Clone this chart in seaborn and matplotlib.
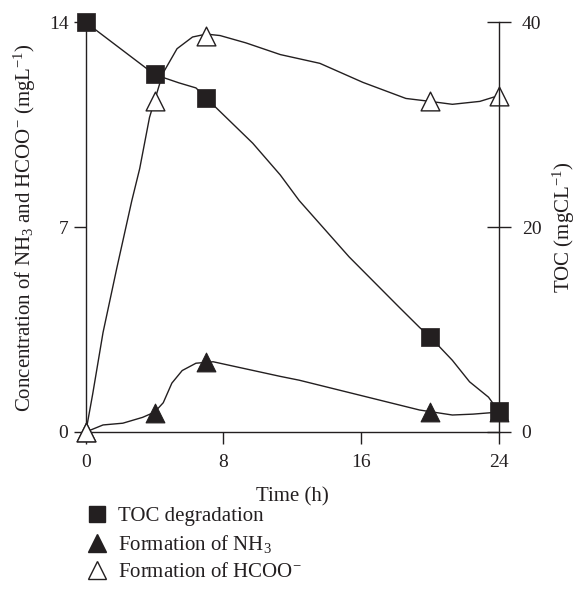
import numpy as np
import pandas as pd
import matplotlib
matplotlib.use("Agg")
import matplotlib.pyplot as plt
import seaborn as sns
from matplotlib.lines import Line2D

# ---- data ----
time_h = [0, 4, 7, 20, 24]
toc = [40, 35, 32.6, 9.3, 2.0]          # right axis, mgC/L
nh3 = [0, 0.65, 2.4, 0.68, 0.68]         # left axis, mg/L
hcoo = [0, 11.3, 13.55, 11.3, 11.5]      # left axis, mg/L

# traced guide curves (knots)
toc_curve_t = [0, 4, 5.4, 6.4, 7, 9.7, 11.3, 12.4, 15.3, 18.2, 19.4, 20, 21.3, 22.3, 23.4, 24]
toc_curve_v = [40, 34.9, 34.1, 33.6, 32.6, 28.2, 25.1, 22.6, 17.1, 12.2, 10.2, 9.3, 7.0, 4.9, 3.4, 2.0]
nh3_curve_t = [0, 1, 2.15, 3.3, 4, 4.5, 5.0, 5.6, 6.4, 7.4, 11.3, 12.4, 15.9, 19.4, 21.3, 22.5, 24]
nh3_curve_v = [0, 0.24, 0.3, 0.5, 0.68, 1.0, 1.67, 2.1, 2.35, 2.4, 1.9, 1.77, 1.26, 0.75, 0.58, 0.61, 0.68]
hcoo_curve_t = [0, 0.4, 1.0, 1.8, 2.67, 3.13, 3.7, 4.47, 5.3, 6.2, 7, 7.8, 9.3, 11.3, 13.6, 16.1, 18.6, 20, 21.3, 22.9, 24]
hcoo_curve_v = [0, 1.3, 3.4, 5.6, 7.9, 9.0, 10.75, 12.25, 13.1, 13.5, 13.6, 13.55, 13.3, 12.9, 12.6, 11.95, 11.4, 11.3, 11.2, 11.3, 11.5]

x_ticks = [0, 8, 16, 24]
left_ticks = [0, 7, 14]
right_ticks = [0, 20, 40]
legend_labels = ["TOC degradation", "Formation of NH$_3$", "Formation of HCOO$^{-}$"]

# ---- style ----
sns.set_style("ticks")
plt.rcParams["font.family"] = ["Liberation Serif", "DejaVu Serif"]
plt.rcParams["mathtext.fontset"] = "custom"
plt.rcParams["mathtext.rm"] = "Liberation Serif"
plt.rcParams["mathtext.it"] = "Liberation Serif:italic"
plt.rcParams["mathtext.default"] = "rm"
plt.rcParams["axes.unicode_minus"] = True
INK = "#231f20"
FS_TICK = 14
FS_LAB = 15

fig = plt.figure(figsize=(5.76, 6.15), dpi=100)
ax = fig.add_axes([0.149, 0.2976, 0.717, 0.666])
ax2 = ax.twinx()

# curves
sns.lineplot(x=nh3_curve_t, y=nh3_curve_v, ax=ax, color=INK, lw=1.0, clip_on=False)
sns.lineplot(x=hcoo_curve_t, y=hcoo_curve_v, ax=ax, color=INK, lw=1.0, clip_on=False)
sns.lineplot(x=toc_curve_t, y=toc_curve_v, ax=ax2, color=INK, lw=1.0, clip_on=False)

# markers
sns.scatterplot(x=time_h, y=nh3, ax=ax, marker="^", s=13.5**2, color=INK,
                edgecolor=INK, linewidth=0.8, clip_on=False, zorder=5)
sns.scatterplot(x=time_h, y=hcoo, ax=ax, marker="^", s=13.5**2, facecolor="white",
                edgecolor=INK, linewidth=1.0, clip_on=False, zorder=6)
sns.scatterplot(x=time_h, y=toc, ax=ax2, marker="s", s=12.5**2, color=INK,
                edgecolor=INK, linewidth=0.5, clip_on=False, zorder=5)

ax.set_xlim(0, 24)
ax.set_ylim(0, 14)
ax2.set_ylim(0, 40)
ax.set_xticks(x_ticks)
ax.set_yticks(left_ticks)
ax2.set_yticks(right_ticks)

for s in ["top", "right"]:
    ax.spines[s].set_visible(False)
for s in ["top", "left", "bottom"]:
    ax2.spines[s].set_visible(False)
for sp in [ax.spines["left"], ax.spines["bottom"], ax2.spines["right"]]:
    sp.set_color(INK)
    sp.set_linewidth(1.0)

ax.tick_params(axis="y", direction="out", length=8.5, width=1.0, color=INK,
               labelsize=FS_TICK, pad=4, labelcolor=INK)
ax.tick_params(axis="x", direction="out", length=8.5, width=1.0, color=INK,
               labelsize=FS_TICK, pad=7, labelcolor=INK)
ax2.tick_params(axis="y", direction="inout", length=17, width=1.0, color=INK,
                labelsize=FS_TICK, pad=8, labelcolor=INK)

ax.set_xlabel("Time (h)", fontsize=FS_LAB, color=INK, labelpad=12)
ax.set_ylabel("Concentration of NH$_3$ and HCOO$^{-}$ (mgL$^{-1}$)", fontsize=FS_LAB,
              color=INK, labelpad=8)
ax2.set_ylabel("TOC (mgCL$^{-1}$)", fontsize=FS_LAB, color=INK, labelpad=6.5)

handles = [
    Line2D([], [], linestyle="none", marker="s", markersize=12, color=INK),
    Line2D([], [], linestyle="none", marker="^", markersize=13, color=INK),
    Line2D([], [], linestyle="none", marker="^", markersize=13, markerfacecolor="white",
           markeredgecolor=INK, markeredgewidth=1.0),
]
fig.legend(handles, legend_labels, loc="upper left", bbox_to_anchor=(0.135, 0.19),
           frameon=False, fontsize=FS_LAB, handlelength=1.0, handletextpad=0.55,
           labelspacing=0.35, borderaxespad=0, labelcolor=INK)

fig.savefig("out.png", dpi=100)
